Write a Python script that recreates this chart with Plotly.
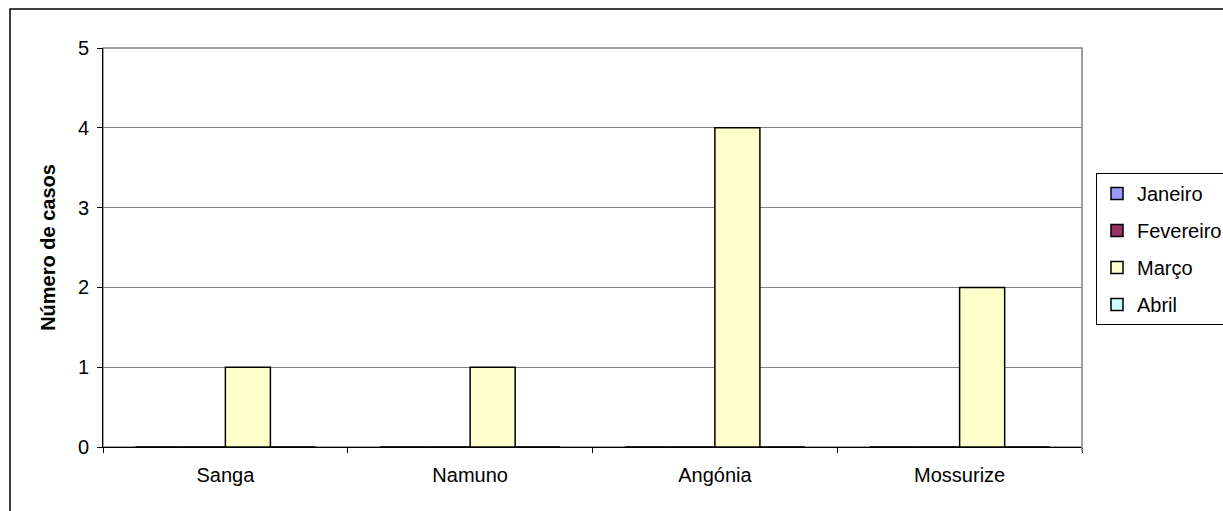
import plotly.graph_objects as go

categories = ["Sanga", "Namuno", "Angónia", "Mossurize"]
series_names = ["Janeiro", "Fevereiro", "Março", "Abril"]
janeiro = [0, 0, 0, 0]
fevereiro = [0, 0, 0, 0]
marco = [1, 1, 4, 2]
abril = [0, 0, 0, 0]
y_ticks = [0, 1, 2, 3, 4, 5]
colors = ["#9999FF", "#993366", "#FFFFCC", "#CCFFFF"]

fig = go.Figure()
for i, (name, vals) in enumerate(zip(series_names, [janeiro, fevereiro, marco, abril])):
    fig.add_trace(go.Bar(
        x=categories, y=vals, name=name, legendgroup=name,
        marker=dict(color=colors[i], line=dict(color="#000000", width=1.5)),
    ))

W, H = 1223, 511
L, R, T, B = 103, 1082, 48, 447
pw, ph = R - L, B - T

def px_x(p):
    return (p - L) / pw

def px_y(p):
    return (B - p) / ph

font = "Arial, 'Liberation Sans', sans-serif"
FS = 20
fig.update_layout(
    width=W, height=H,
    margin=dict(l=L, r=W - R, t=T, b=H - B, pad=0, autoexpand=False),
    paper_bgcolor="white", plot_bgcolor="white",
    barmode="group", bargap=0.264, bargroupgap=0,
    font=dict(family=font, size=FS, color="#000000"),
    showlegend=True,
    legend=dict(
        x=px_x(1096), y=px_y(173), xanchor="left", yanchor="top",
        bordercolor="#000000", borderwidth=1, bgcolor="white",
        font=dict(family=font, size=FS, color="#000000"),
        tracegroupgap=8, traceorder="grouped",
    ),
    xaxis=dict(
        type="category", tickson="boundaries", ticks="outside", ticklen=5,
        tickcolor="#000000", showline=True, linecolor="#000000", linewidth=1,
        showgrid=False, zeroline=False, ticklabelstandoff=10,
        tickfont=dict(family=font, size=FS),
    ),
    yaxis=dict(
        range=[0, 5], tickvals=y_ticks, ticks="outside", ticklen=5,
        tickcolor="#000000", showline=True, linecolor="#000000", linewidth=1,
        showgrid=True, gridcolor="#808080", gridwidth=1, zeroline=False,
        ticklabelstandoff=4,
        tickfont=dict(family=font, size=FS),
        title=dict(text="<b>Número de casos</b>", standoff=16,
                   font=dict(family=font, size=FS)),
    ),
    shapes=[
        dict(type="rect", xref="paper", yref="paper", x0=0, x1=1, y0=0, y1=1,
             line=dict(color="#808080", width=1.5), layer="below"),
        dict(type="line", xref="paper", yref="paper", x0=1, x1=1, y0=0,
             y1=px_y(452), line=dict(color="#808080", width=1.5)),
        dict(type="rect", xref="paper", yref="paper",
             x0=px_x(10), y0=px_y(540), x1=px_x(1240), y1=px_y(9),
             line=dict(color="#000000", width=1.5), layer="below"),
    ],
)

fig.write_html("out.html", config={"displayModeBar": False},
               post_script="document.body.style.margin='0';")
